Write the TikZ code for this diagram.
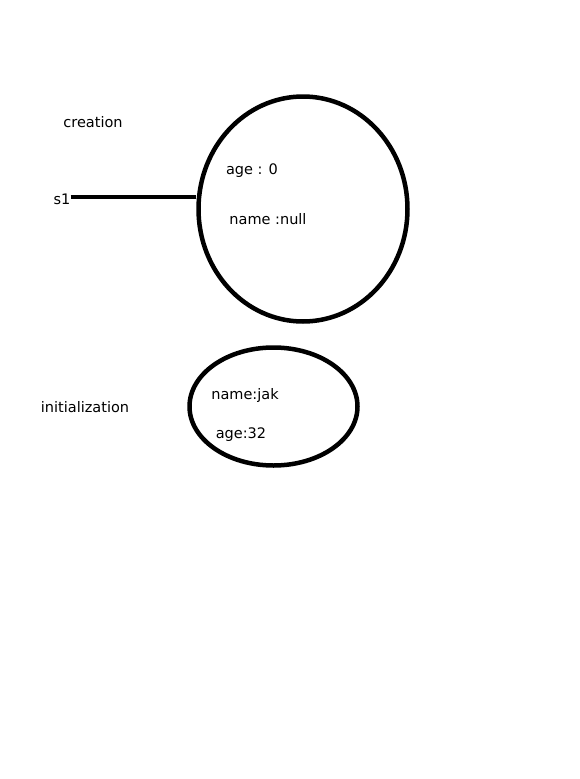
\documentclass[tikz,border=0pt]{standalone}
\usepackage{fontspec}
\setmainfont{DejaVu Sans}
\usetikzlibrary{shapes.geometric,positioning}
\tikzset{
  lbl/.style={inner sep=0pt, font=\fontsize{14.5}{16}\selectfont},
  objring/.style={draw, ellipse, line width=4.5pt, inner sep=0pt},
  refline/.style={line width=3.5pt}
}
\begin{document}
\begin{tikzpicture}[x=1pt,y=-1pt]
  \useasboundingbox (0,0) rectangle (580,779);
  % creation
  \node[lbl] (creation) at (93,122) {creation};
  \node[objring, minimum width=209pt, minimum height=225pt] (obj) at (303,209) {};
  \node[lbl] (age) at (252,171) {age : 0};
  \node[lbl] (name) at (268,219) {name :null};
  \node[lbl] (s1) at (62,199) {s1};
  \draw[refline] ([yshift=2pt]s1.east) -- ([yshift=2pt]s1.east -| obj.west);
  % initialization
  \node[lbl] (init) at (85,407) {initialization};
  \node[objring, minimum width=168pt, minimum height=118pt] (obj2) at (273.5,406.5) {};
  \node[lbl] (name2) at (245,395) {name:jak};
  \node[lbl] (age2) at (241,435) {age:32};
\end{tikzpicture}
\end{document}
